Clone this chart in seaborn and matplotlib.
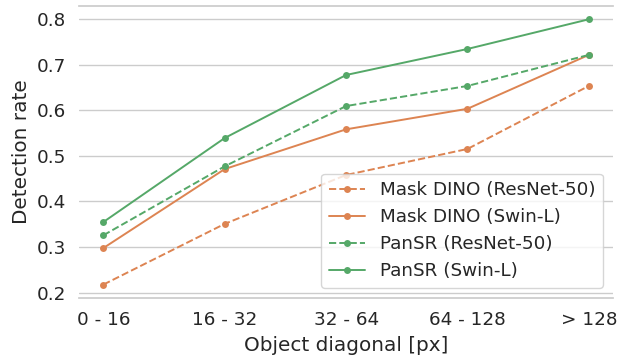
import pandas as pd
import matplotlib
matplotlib.use("Agg")
import matplotlib.pyplot as plt
import seaborn as sns

# Data
bins = ['0 - 16', '16 - 32', '32 - 64', '64 - 128', '> 128']
mask_dino_r50 = [0.218, 0.351, 0.458, 0.515, 0.653]
mask_dino_swin = [0.298, 0.471, 0.558, 0.603, 0.721]
pansr_r50 = [0.326, 0.477, 0.609, 0.653, 0.721]
pansr_swin = [0.355, 0.539, 0.677, 0.734, 0.799]

sns.set_theme(style='whitegrid', font_scale=1.2)
plt.rcParams['font.family'] = ['DejaVu Sans']
pal = sns.color_palette('deep')
orange, green = pal[1], pal[2]

series = [
    ('Mask DINO (ResNet-50)', mask_dino_r50, orange, '--'),
    ('Mask DINO (Swin-L)', mask_dino_swin, orange, '-'),
    ('PanSR (ResNet-50)', pansr_r50, green, '--'),
    ('PanSR (Swin-L)', pansr_swin, green, '-'),
]

fig, ax = plt.subplots(figsize=(6.18, 3.55), dpi=100)
for name, vals, col, ls in series:
    df = pd.DataFrame({'bin': bins, 'rate': vals})
    sns.lineplot(data=df, x='bin', y='rate', ax=ax, color=col, linestyle=ls,
                 marker='o', markersize=5, markeredgewidth=0, linewidth=1.4,
                 label=name, sort=False)

ax.set_xlabel('Object diagonal [px]', labelpad=5)
ax.set_ylabel('Detection rate')
ax.grid(axis='x', visible=False)
ax.spines['left'].set_visible(False)
ax.spines['right'].set_visible(False)
ax.legend(loc='lower right', borderaxespad=0.55)

fig.subplots_adjust(left=0.128, right=0.992, top=0.983, bottom=0.161)
fig.savefig('out.png', dpi=100)
